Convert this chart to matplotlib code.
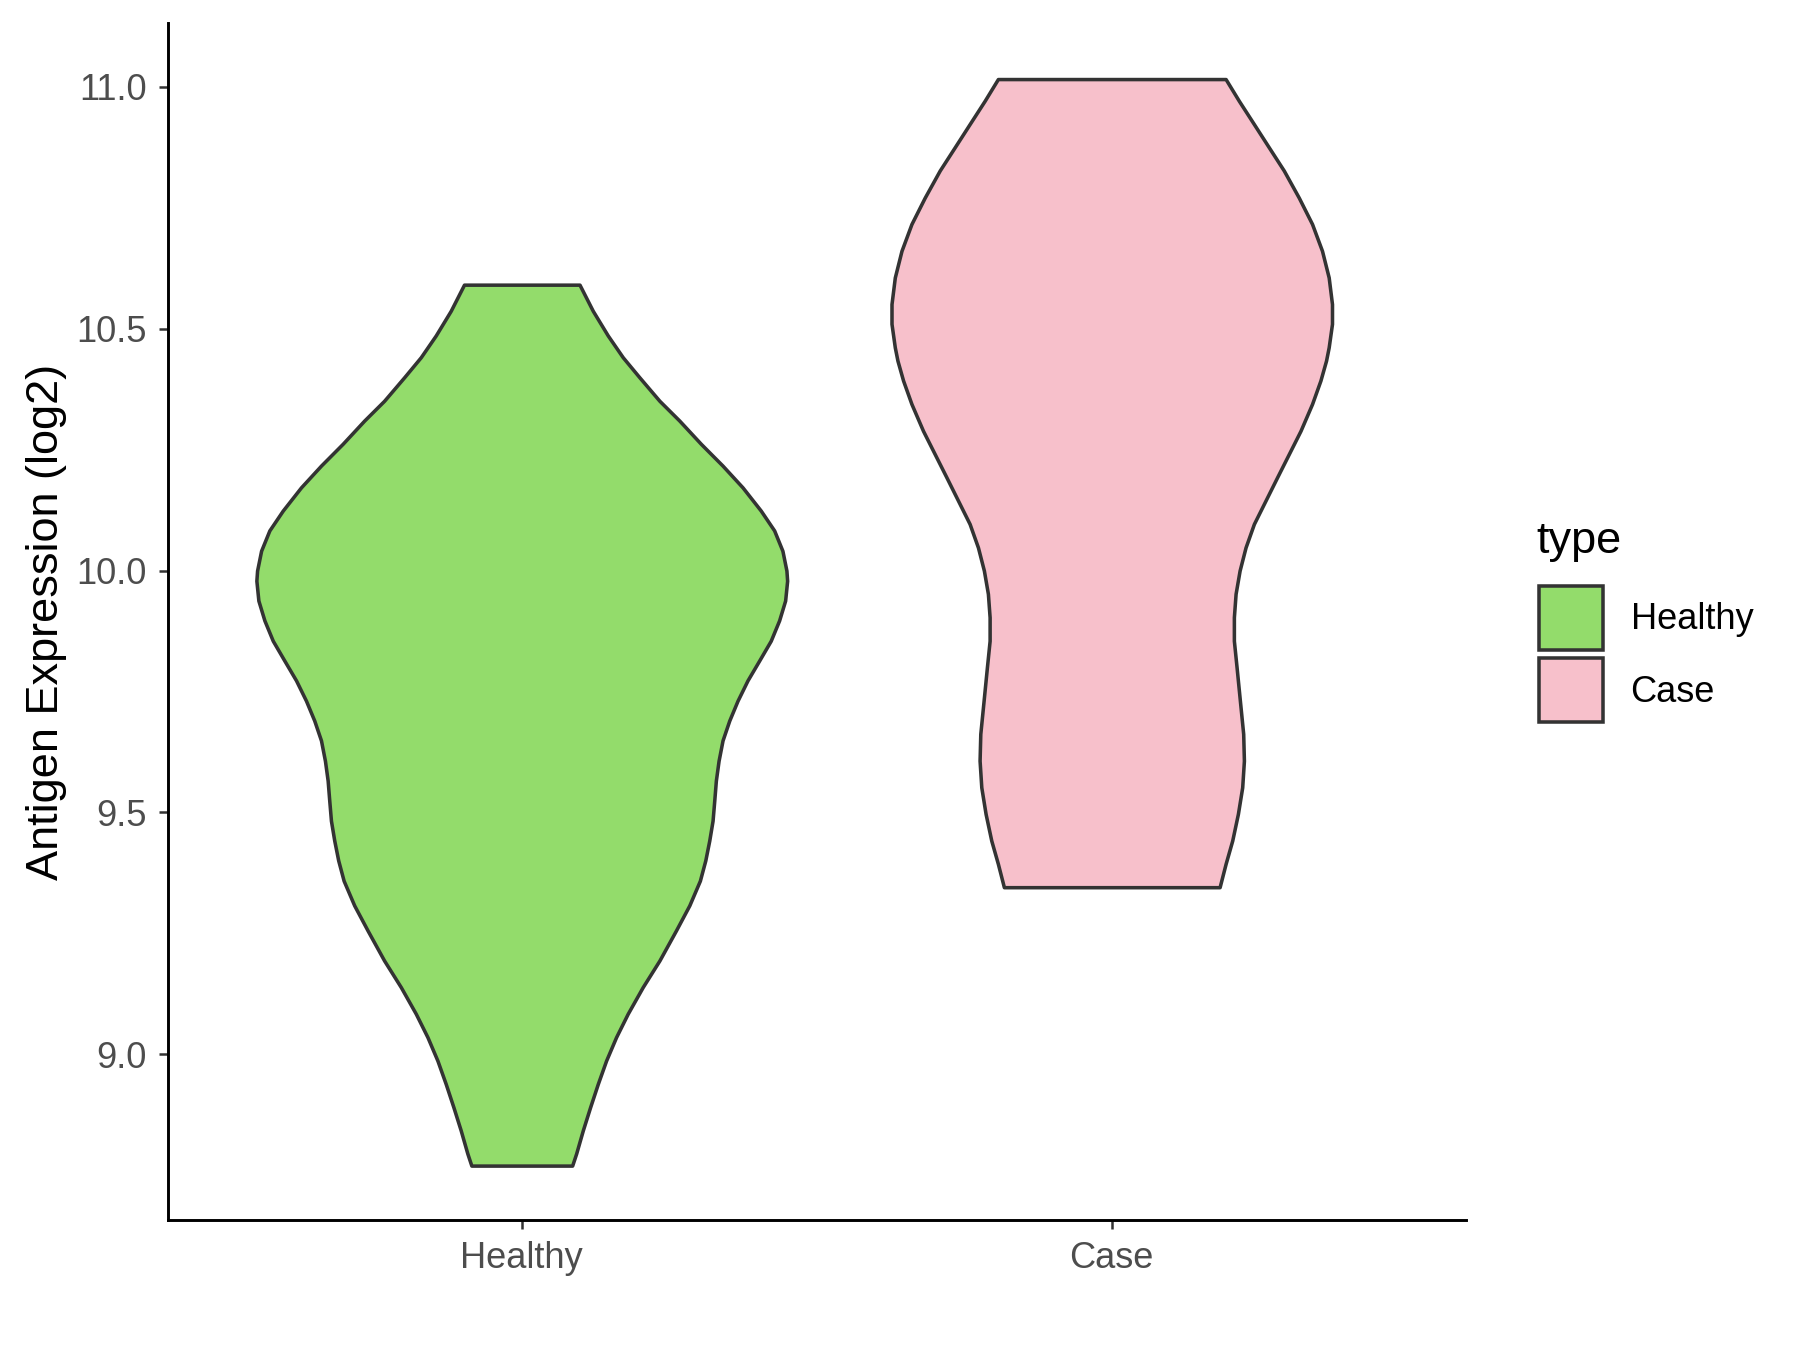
import numpy as np
import matplotlib
matplotlib.use("Agg")
import matplotlib.pyplot as plt
from matplotlib.patches import Patch

plt.rcParams["font.family"] = ["Liberation Sans", "DejaVu Sans"]

# ------------------------------------------------------------------ #
# data (violin half-widths, x units)          #
# ------------------------------------------------------------------ #
categories = ["Healthy", "Case"]
colors = ["#93DC6B", "#F7C0CB"]

healthy_y = [10.591, 10.537, 10.486, 10.441, 10.3995, 10.351, 10.310, 10.262,
             10.217, 10.172, 10.124, 10.083, 10.041, 10.000, 9.979, 9.938,
             9.897, 9.855, 9.814, 9.773, 9.731, 9.690, 9.649, 9.607, 9.566,
             9.525, 9.483, 9.442, 9.401, 9.359, 9.308, 9.256, 9.194, 9.139,
             9.084, 9.0355, 8.987, 8.939, 8.891, 8.843, 8.795, 8.770]
healthy_hw = [0.0979, 0.1204, 0.1458, 0.1712, 0.1994, 0.2333, 0.2671, 0.3036,
              0.3403, 0.3742, 0.4051, 0.4278, 0.4418, 0.4486, 0.4498, 0.4464,
              0.4362, 0.4220, 0.4024, 0.3826, 0.3657, 0.3517, 0.3403, 0.3336, 0.3290,
              0.3263, 0.3234, 0.3178, 0.3111, 0.3019, 0.2840, 0.2613, 0.2333, 0.2050,
              0.1796, 0.1598, 0.1429, 0.1289, 0.1159, 0.1035, 0.0922, 0.0854]

case_y = [11.016, 10.971, 10.923, 10.875, 10.827, 10.771, 10.7165, 10.661,
          10.606, 10.551, 10.510, 10.4615, 10.434, 10.393, 10.3445, 10.289,
          10.241, 10.193, 10.145, 10.0965, 10.048, 10.000, 9.952, 9.9035,
          9.855, 9.800, 9.731, 9.6625, 9.607, 9.552, 9.497, 9.442, 9.394, 9.3455]
case_hw = [0.1930, 0.2155, 0.2409, 0.2662, 0.2916, 0.3170, 0.3395, 0.3564,
           0.3677, 0.3733, 0.3733, 0.3677, 0.3632, 0.3537, 0.3395, 0.3199,
           0.3001, 0.2803, 0.2607, 0.2409, 0.2268, 0.2167, 0.2099, 0.2070,
           0.2070, 0.2116, 0.2172, 0.2228, 0.2240, 0.2211, 0.2138, 0.2042, 0.1930, 0.1828]

y_ticks = [9.0, 9.5, 10.0, 10.5, 11.0]

# ------------------------------------------------------------------ #
fig = plt.figure(figsize=(12, 9), dpi=150)
ax = fig.add_axes([0.0932, 0.0961, 0.7211, 0.8869])

profiles = [(healthy_y, healthy_hw), (case_y, case_hw)]
for i, ((ys, hw), col) in enumerate(zip(profiles, colors)):
    ys = np.asarray(ys)
    hw = np.asarray(hw)
    pos = i + 1
    ax.fill_betweenx(ys, pos - hw, pos + hw, facecolor=col,
                     edgecolor="#333333", linewidth=1.7, zorder=2,
                     joinstyle="round")

ax.set_xlim(0.4, 2.6)
ax.set_ylim(8.657, 11.132)
ax.set_xticks([1, 2])
ax.set_xticklabels(categories)
ax.set_yticks(y_ticks)
ax.set_yticklabels([f"{v:.1f}" for v in y_ticks])

for side in ["top", "right"]:
    ax.spines[side].set_visible(False)
for side in ["left", "bottom"]:
    ax.spines[side].set_linewidth(1.4)
    ax.spines[side].set_color("black")

ax.tick_params(axis="both", length=4.4, width=1.2, color="#333333",
               labelsize=17.4, labelcolor="#4D4D4D")
ax.tick_params(axis="y", pad=5.6)
ax.tick_params(axis="x", pad=5.6)

ax.set_ylabel("Antigen Expression (log2)", fontsize=21.7, color="black")
ax.yaxis.set_label_coords(-0.078, 0.5)

# legend: title as plain text, keys via legend
fig.text(0.8537, 1 - 553.5 / 1350, "type", fontsize=21.7, color="black",
         ha="left", va="baseline")
handles = [Patch(facecolor=c, edgecolor="#333333", linewidth=1.7, label=l)
           for c, l in zip(colors, categories)]
leg = fig.legend(handles=handles, loc="upper left",
                 bbox_to_anchor=(1539.3 / 1800, 1 - 586 / 1350), frameon=False,
                 fontsize=17.4, handlelength=1.766, handleheight=2.34,
                 labelspacing=0.23, handletextpad=0.75,
                 borderpad=0, borderaxespad=0)

fig.savefig("out.png", dpi=150)
